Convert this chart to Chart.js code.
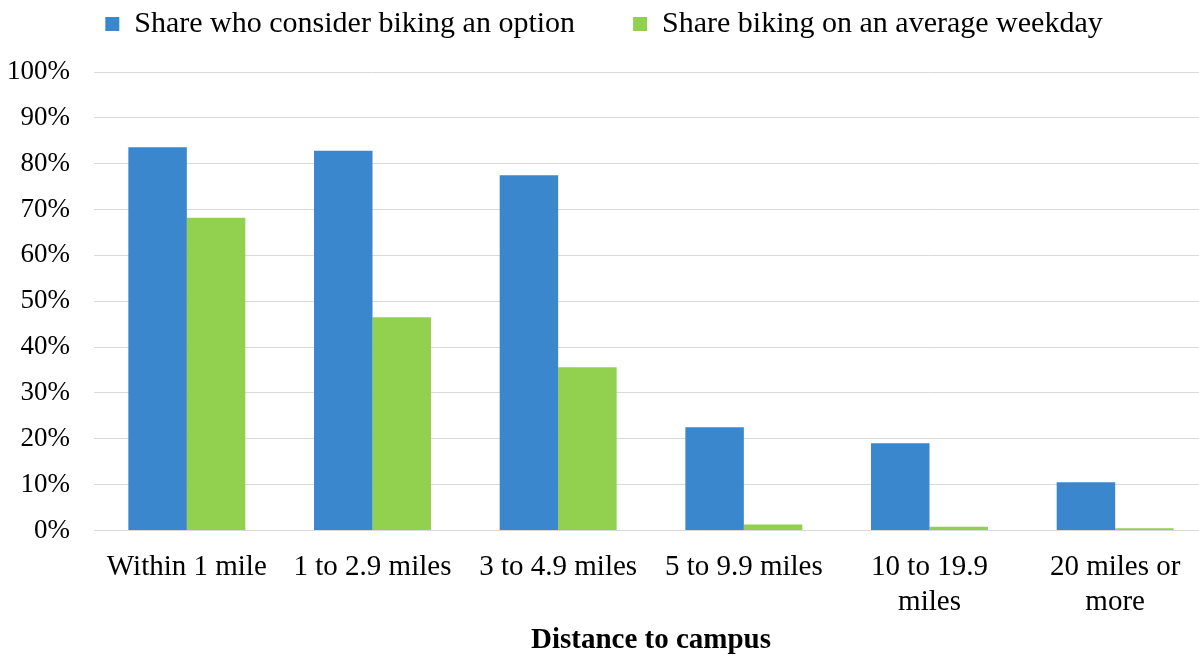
<!DOCTYPE html>
<html>
<head>
<meta charset="utf-8">
<script src="https://cdn.jsdelivr.net/npm/chart.js@4"></script>
<style>
    html, body { margin: 0; padding: 0; background: #fff; overflow: hidden; }
    #wrap { width: 1208px; height: 656px; position: relative; }
</style>
</head>
<body>
<div id="wrap"><canvas id="chart"></canvas></div>
<script>
const categories = [
    "Within 1 mile",
    "1 to 2.9 miles",
    "3 to 4.9 miles",
    "5 to 9.9 miles",
    ["10 to 19.9", "miles"],
    ["20 miles or", "more"],
];
const considerBiking = [83.6, 82.8, 77.5, 22.5, 19.0, 10.5];
const bikingWeekday = [68.2, 46.5, 35.6, 1.3, 0.8, 0.5];
const yTicks = [0, 10, 20, 30, 40, 50, 60, 70, 80, 90, 100];

const serif = "'Liberation Serif', 'Times New Roman', serif";
const gridColor = "#d9d9d9";

// legend sits high, plot starts lower: force the legend box height
const legendHeight = {
    id: "legendHeight",
    beforeInit(chart) {
        const fit = chart.legend.fit;
        chart.legend.fit = function () {
            fit.bind(chart.legend)();
            this.height = 121;
        };
    },
};

const ctx = document.getElementById("chart").getContext("2d");
new Chart(ctx, {
    type: "bar",
    data: {
        labels: categories,
        datasets: [
            {
                label: "Share who consider biking an option",
                data: considerBiking,
                backgroundColor: "#3a87cd",
                borderWidth: 0,
            },
            {
                label: "Share biking on an average weekday",
                data: bikingWeekday,
                backgroundColor: "#92d050",
                borderWidth: 0,
            },
        ],
    },
    plugins: [legendHeight],
    options: {
        responsive: true,
        maintainAspectRatio: false,
        animation: false,
        datasets: {
            bar: { barPercentage: 1, categoryPercentage: 0.63 },
        },
        layout: { padding: { top: -49, right: 0, bottom: -2, left: 0 } },
        plugins: {
            legend: {
                position: "top",
                labels: {
                    font: { family: serif, size: 30 },
                    color: "#000",
                    boxWidth: 14,
                    boxHeight: 14,
                    padding: 58,
                },
            },
            tooltip: { enabled: false },
        },
        scales: {
            x: {
                grid: { display: false },
                border: { display: true, color: gridColor, width: 1 },
                ticks: {
                    font: { family: serif, size: 29, lineHeight: 1.22 },
                    color: "#000",
                    maxRotation: 0,
                    autoSkip: false,
                    padding: 11,
                },
                title: {
                    display: true,
                    text: "Distance to campus",
                    font: { family: serif, size: 29, weight: "bold", lineHeight: 1.2 },
                    color: "#000",
                    padding: { top: -8, bottom: 0 },
                },
            },
            y: {
                min: 0,
                max: 100,
                afterBuildTicks: (axis) => {
                    axis.ticks = yTicks.map((v) => ({ value: v }));
                },
                afterFit: (axis) => {
                    axis.width = 94;
                },
                grid: {
                    color: gridColor,
                    lineWidth: 1,
                    drawTicks: false,
                },
                border: { display: false },
                ticks: {
                    font: { family: serif, size: 27 },
                    color: "#000",
                    padding: 24,
                    callback: (v) => v + "%",
                },
            },
        },
    },
});
</script>
</body>
</html>
